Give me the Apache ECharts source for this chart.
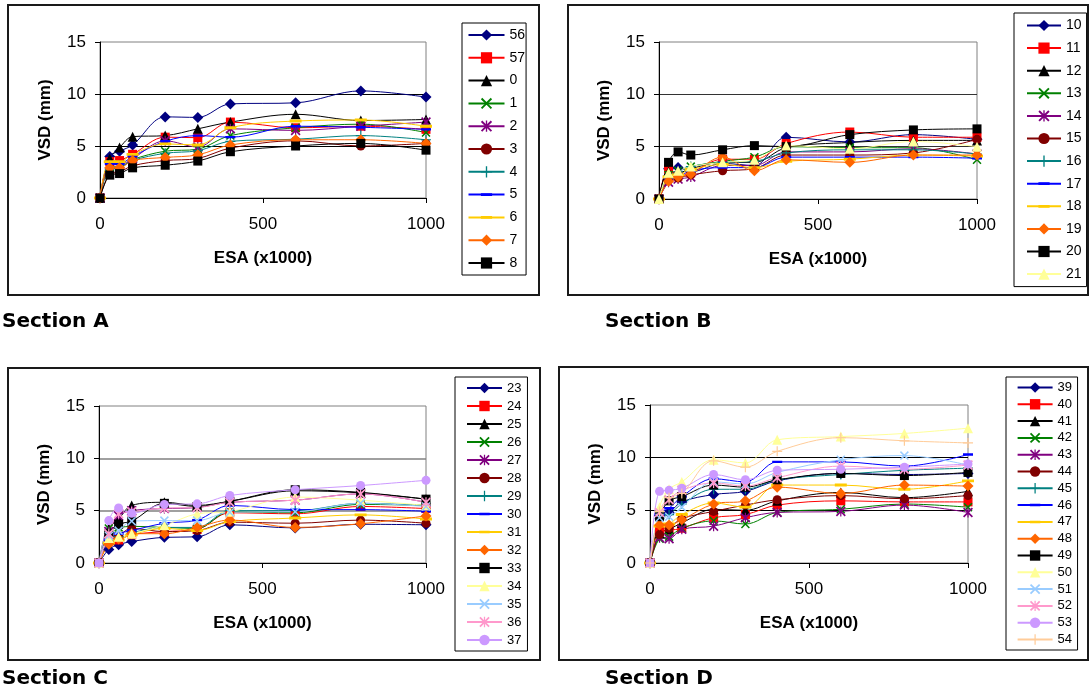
<!DOCTYPE html>
<html>
<head>
<meta charset="utf-8">
<script src="https://cdn.jsdelivr.net/npm/echarts@6/dist/echarts.min.js"></script>
<style>
  html, body { margin: 0; padding: 0; background: #ffffff; }
  #chart { width: 1090px; height: 692px; }
</style>
</head>
<body>
<div id="chart"></div>
<script>
// Load repetitions (ESA x1000) shared by every curve
const esa = [0, 30, 60, 100, 200, 300, 400, 600, 800, 1000];

// Section A – vertical surface deformation (mm)
const namesA = ['56', '57', '0', '1', '2', '3', '4', '5', '6', '7', '8'];
const vsdA = [
  [0, 4.0, 4.5, 5.1, 7.8, 7.75, 9.05, 9.15, 10.3, 9.7],
  [0, 3.5, 3.6, 4.2, 5.85, 5.8, 7.3, 6.75, 6.9, 6.6],
  [0, 3.8, 4.85, 5.9, 6.0, 6.65, 7.3, 8.05, 7.45, 7.55],
  [0, 3.0, 3.0, 3.7, 4.5, 4.7, 6.0, 6.75, 7.1, 6.3],
  [0, 3.2, 3.2, 3.8, 5.5, 4.9, 6.65, 6.5, 6.9, 7.3],
  [0, 2.3, 2.5, 3.1, 3.6, 3.8, 4.8, 5.5, 5.0, 5.25],
  [0, 2.8, 2.9, 3.6, 4.3, 4.55, 5.45, 5.65, 6.0, 5.6],
  [0, 3.3, 3.3, 4.0, 5.45, 6.0, 5.85, 6.9, 6.8, 6.6],
  [0, 3.5, 3.5, 4.2, 5.2, 5.1, 6.75, 7.4, 7.5, 6.9],
  [0, 2.9, 2.9, 3.6, 3.9, 4.15, 5.1, 5.6, 5.6, 5.25],
  [0, 2.2, 2.35, 2.9, 3.15, 3.55, 4.45, 5.0, 5.25, 4.6]
];

// Section B
const namesB = ['10', '11', '12', '13', '14', '15', '16', '17', '18', '19', '20', '21'];
const vsdB = [
  [0, 2.9, 3.0, 2.6, 3.4, 3.2, 5.9, 5.45, 6.15, 5.7],
  [0, 2.9, 2.2, 2.5, 3.8, 3.8, 5.3, 6.4, 5.9, 5.9],
  [0, 2.6, 2.5, 2.9, 3.5, 3.5, 4.9, 5.4, 5.6, 5.6],
  [0, 2.3, 2.7, 3.1, 3.6, 4.0, 5.0, 4.9, 4.9, 3.75],
  [0, 1.6, 1.9, 2.1, 3.2, 3.2, 4.5, 4.5, 4.8, 4.3],
  [0, 1.8, 2.0, 2.3, 2.7, 2.9, 4.2, 4.2, 4.4, 5.7],
  [0, 2.2, 2.6, 3.1, 3.5, 3.6, 4.4, 4.7, 4.7, 4.3],
  [0, 2.0, 2.1, 2.7, 3.0, 3.0, 4.0, 4.0, 4.0, 3.9],
  [0, 2.1, 2.3, 2.8, 3.3, 3.0, 3.6, 3.8, 4.2, 4.1],
  [0, 1.7, 2.1, 2.4, 4.0, 2.7, 3.75, 3.5, 4.2, 4.2],
  [0, 3.5, 4.5, 4.2, 4.7, 5.1, 5.0, 6.15, 6.6, 6.7],
  [0, 2.5, 2.7, 3.1, 3.5, 3.75, 5.1, 4.8, 5.5, 5.0]
];

// Section C
const namesC = ['23', '24', '25', '26', '27', '28', '29', '30', '31', '32', '33', '34', '35', '36', '37'];
const vsdC = [
  [0, 1.3, 1.75, 2.05, 2.45, 2.5, 3.65, 3.35, 3.7, 3.65],
  [0, 2.1, 2.2, 2.7, 3.0, 3.2, 4.8, 4.7, 5.4, 5.2],
  [0, 3.3, 4.2, 5.5, 5.8, 5.5, 5.9, 6.9, 6.7, 6.1],
  [0, 3.3, 3.4, 3.5, 3.4, 3.3, 4.9, 4.8, 5.6, 5.5],
  [0, 3.0, 4.5, 5.0, 5.2, 5.3, 5.8, 6.0, 6.6, 5.8],
  [0, 2.0, 2.6, 3.3, 3.0, 3.1, 3.9, 3.8, 4.1, 3.8],
  [0, 2.5, 2.5, 2.9, 3.4, 3.4, 5.0, 5.0, 5.7, 5.5],
  [0, 2.2, 2.8, 3.1, 3.8, 4.1, 5.5, 5.1, 5.1, 4.95],
  [0, 1.9, 2.2, 2.7, 3.3, 3.1, 3.95, 4.3, 4.6, 4.2],
  [0, 1.8, 2.3, 2.8, 2.8, 3.4, 4.1, 3.4, 3.75, 4.5],
  [0, 2.8, 3.7, 4.0, 5.7, 5.4, 5.9, 7.0, 6.75, 6.1],
  [0, 2.4, 2.5, 2.8, 3.6, 4.7, 4.9, 6.3, 6.0, 5.5],
  [0, 2.6, 3.1, 4.0, 4.05, 4.05, 4.85, 4.9, 5.7, 5.4],
  [0, 2.8, 4.7, 4.9, 5.25, 5.3, 5.8, 6.0, 6.6, 5.8],
  [0, 4.05, 5.25, 4.75, 5.6, 5.65, 6.45, 7.0, 7.4, 7.9]
];

// Section D
const namesD = ['39', '40', '41', '42', '43', '44', '45', '46', '47', '48', '49', '50', '51', '52', '53', '54'];
const vsdD = [
  [0, 4.5, 4.8, 5.8, 6.5, 6.8, 7.8, 8.5, 8.4, 8.5],
  [0, 3.0, 3.1, 3.3, 4.3, 4.6, 5.5, 5.9, 5.8, 5.8],
  [0, 2.8, 3.2, 3.8, 5.1, 5.0, 5.9, 6.7, 6.2, 6.8],
  [0, 2.3, 2.5, 3.3, 4.0, 3.7, 4.8, 5.1, 5.6, 5.3],
  [0, 2.4, 2.3, 3.2, 3.5, 4.3, 4.8, 4.9, 5.5, 4.8],
  [0, 2.7, 3.3, 4.2, 4.9, 5.5, 6.0, 6.4, 6.1, 6.4],
  [0, 4.2, 4.6, 5.6, 7.0, 7.0, 7.9, 8.4, 8.8, 9.0],
  [0, 4.6, 5.2, 6.3, 8.0, 7.7, 9.6, 9.6, 9.2, 10.3],
  [0, 3.5, 3.7, 4.6, 5.7, 5.3, 7.4, 7.4, 7.0, 7.8],
  [0, 3.6, 3.6, 4.1, 5.6, 5.9, 7.2, 6.6, 7.4, 7.3],
  [0, 4.4, 5.9, 6.3, 7.4, 7.2, 7.9, 8.5, 8.3, 8.6],
  [0, 5.3, 7.0, 7.7, 9.8, 9.5, 11.7, 12.0, 12.3, 12.8],
  [0, 4.3, 4.4, 5.3, 7.7, 7.5, 8.6, 9.8, 10.2, 9.3],
  [0, 4.8, 6.0, 6.9, 7.6, 7.3, 8.1, 9.2, 8.9, 9.3],
  [0, 6.8, 6.9, 7.1, 8.4, 7.9, 8.8, 8.9, 9.1, 9.4],
  [0, 4.9, 6.2, 6.6, 9.7, 9.1, 10.6, 11.9, 11.6, 11.4]
];

// Marker shapes (filled outlines so they fit the symbol box)
const X_MARK = 'path://M0,1.2L1.2,0L5,3.8L8.8,0L10,1.2L6.2,5L10,8.8L8.8,10L5,6.2L1.2,10L0,8.8L3.8,5Z';
const STAR_MARK = X_MARK + 'M4.4,0H5.6V10H4.4Z';
const PLUS_MARK = 'path://M4.4,0H5.6V4.4H10V5.6H5.6V10H4.4V5.6H0V4.4H4.4Z';
const DASH_MARK = 'path://M0,0L0,0.01M0,3.8H10V6.2H0ZM10,10L10,9.99';

const COLORS = ['#000080', '#FF0000', '#000000', '#008000', '#800080', '#800000', '#008080', '#0000FF',
                '#FFCC00', '#FF6600', '#000000', '#FFFF99', '#99CCFF', '#FF99CC', '#CC99FF', '#FFCC99'];
const MARKS = ['diamond', 'rect', 'triangle', X_MARK, STAR_MARK, 'circle', PLUS_MARK, DASH_MARK,
               DASH_MARK, 'diamond', 'rect', 'triangle', X_MARK, STAR_MARK, 'circle', PLUS_MARK];
const MARK_SIZES = [11, 9, 10, 9, 10, 9, 10, 10, 12, 11, 9, 10, 9, 10, 9, 10];

const FONT = '"Liberation Sans", Arial, sans-serif';

const panels = [
  { names: namesA, values: vsdA, frame: [8, 5, 531, 290],
    grid: { left: 100, top: 42, width: 326, height: 156 },
    legend: { left: 462, top: 23, padding: [5, 1, 5, 5.5], gap: 8.8, size: 14, width: 36, icon: 14 },
    split: '#000000', splitWidth: 1, caption: ['Section A', 2, 322] },
  { names: namesB, values: vsdB, frame: [568, 5, 520, 290],
    grid: { left: 659, top: 42, width: 318, height: 157 },
    legend: { left: 1014, top: 13, padding: [5.5, 5, 5.5, 12], gap: 8.6, size: 14, width: 34, icon: 14 },
    split: '#333333', splitWidth: 1, caption: ['Section B', 605, 322] },
  { names: namesC, values: vsdC, frame: [8, 368, 532, 292],
    grid: { left: 99, top: 406, width: 327, height: 157 },
    legend: { left: 455, top: 377, padding: [4.5, 6, 4.5, 11], gap: 5, size: 13, width: 35, icon: 13 },
    split: '#808080', splitWidth: 1.6, caption: ['Section C', 2, 679] },
  { names: namesD, values: vsdD, frame: [559, 367, 529, 293],
    grid: { left: 650, top: 405, width: 318, height: 158 },
    legend: { left: 1006, top: 377, padding: [4, 5.5, 4, 10.6], gap: 3.8, size: 13, width: 35, icon: 13 },
    split: '#000000', splitWidth: 1, caption: ['Section D', 605, 679] }
];

const grids = [], xAxes = [], yAxes = [], legends = [], series = [], graphics = [];

panels.forEach((p, i) => {
  grids.push(Object.assign({
    show: true, borderColor: '#808080', borderWidth: 1, backgroundColor: 'transparent',
    containLabel: false, outerBoundsMode: 'none'
  }, p.grid));

  xAxes.push({
    type: 'value', gridIndex: i, min: 0, max: 1000, interval: 500,
    name: 'ESA (x1000)', nameLocation: 'middle', nameGap: 52,
    nameTextStyle: { fontFamily: FONT, fontWeight: 'bold', fontSize: 17, color: '#000' },
    axisLine: { show: true, onZero: false, lineStyle: { color: '#000', width: 1 } },
    axisTick: { show: true, inside: false, length: 5, lineStyle: { color: '#000' } },
    axisLabel: { fontFamily: FONT, fontSize: 17, color: '#000', margin: 18,
                 formatter: (v) => String(v) },
    splitLine: { show: false }
  });

  yAxes.push({
    type: 'value', gridIndex: i, min: 0, max: 15, interval: 5,
    name: 'VSD (mm)', nameLocation: 'middle', nameGap: 46, nameRotate: 90,
    nameTextStyle: { fontFamily: FONT, fontWeight: 'bold', fontSize: 17, color: '#000' },
    axisLine: { show: true, lineStyle: { color: '#000', width: 1 } },
    axisTick: { show: true, inside: false, length: 5, lineStyle: { color: '#000' } },
    axisLabel: { fontFamily: FONT, fontSize: 17, color: '#000', margin: 14,
                 formatter: (v) => String(v) },
    splitLine: { show: true, showMinLine: false, showMaxLine: false,
                 lineStyle: { color: p.split, width: p.splitWidth } }
  });

  legends.push({
    orient: 'vertical', left: p.legend.left, top: p.legend.top,
    padding: p.legend.padding, itemGap: p.legend.gap,
    itemWidth: p.legend.width, itemHeight: p.legend.icon,
    borderColor: '#000', borderWidth: 1, backgroundColor: '#fff',
    selectedMode: false, data: p.names,
    textStyle: { fontFamily: FONT, fontSize: p.legend.size, color: '#000' }
  });

  p.names.forEach((name, k) => {
    series.push({
      type: 'line', name: name, xAxisIndex: i, yAxisIndex: i,
      data: esa.map((x, j) => [x, p.values[k][j]]),
      smooth: 0.35,
      symbol: MARKS[k], symbolSize: MARK_SIZES[k], showSymbol: true,
      lineStyle: { color: COLORS[k], width: 1 },
      itemStyle: { color: COLORS[k], borderWidth: 0 },
      emphasis: { disabled: true },
      animation: false
    });
  });

  const f = p.frame;
  graphics.push({
    type: 'rect', silent: true, z: -10,
    shape: { x: f[0], y: f[1], width: f[2], height: f[3] },
    style: { fill: 'none', stroke: '#1a1a1a', lineWidth: 2 }
  });
  graphics.push({
    type: 'text', silent: true, x: p.caption[1], y: p.caption[2],
    style: { text: p.caption[0], font: 'bold 20px "DejaVu Sans", Verdana, sans-serif',
             fill: '#000', textVerticalAlign: 'middle' }
  });
});

const chart = echarts.init(document.getElementById('chart'), null, { renderer: 'canvas' });
chart.setOption({
  animation: false,
  backgroundColor: '#ffffff',
  grid: grids, xAxis: xAxes, yAxis: yAxes, legend: legends,
  series: series, graphic: graphics, tooltip: { show: false }
});
</script>
</body>
</html>
